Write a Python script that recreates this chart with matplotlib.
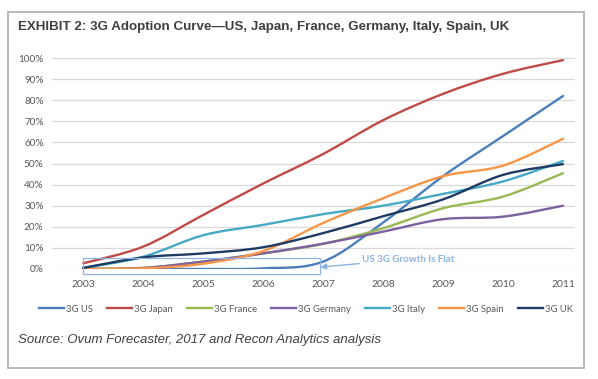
import matplotlib
matplotlib.use("Agg")
import matplotlib.pyplot as plt
import numpy as np
from matplotlib.path import Path
from matplotlib.patches import PathPatch, Rectangle
from matplotlib.lines import Line2D

years = [2003, 2004, 2005, 2006, 2007, 2008, 2009, 2010, 2011]
us      = [0.0, 0.0, 0.0, 0.3, 3.5, 22.0, 44.0, 63.0, 82.0]
japan   = [2.7, 10.6, 25.6, 40.5, 54.5, 70.5, 83.0, 92.5, 99.0]
france  = [0.0, 0.5, 3.5, 7.4, 11.9, 19.3, 28.8, 34.3, 45.4]
germany = [0.0, 0.5, 3.5, 7.4, 12.0, 17.7, 23.6, 24.8, 30.0]
italy   = [0.5, 5.8, 16.0, 20.9, 26.0, 30.0, 35.6, 41.5, 51.2]
spain   = [0.0, 0.3, 2.5, 8.5, 21.8, 33.5, 44.0, 49.0, 61.7]
uk      = [0.5, 5.5, 7.4, 10.3, 17.0, 25.0, 33.0, 44.6, 49.7]

series_names = ["3G US", "3G Japan", "3G France", "3G Germany", "3G Italy", "3G Spain", "3G UK"]
series_vals = [us, japan, france, germany, italy, spain, uk]
colors = ["#4a7ebb", "#be4b48", "#98b954", "#7d60a0", "#46aac5", "#f79646", "#1f3b64"]
y_ticks = [0, 10, 20, 30, 40, 50, 60, 70, 80, 90, 100]

W, H = 598, 379
fig = plt.figure(figsize=(W / 100, H / 100), dpi=100)
fig.patch.set_facecolor("white")

# outer frame
frame = Rectangle((8 / W, 1 - 368 / H), (584 - 8) / W, (368 - 12) / H,
                  transform=fig.transFigure, fill=False, edgecolor="#b3b3b3", lw=1.3)
fig.patches.append(frame)

ax = fig.add_axes([52 / W, 1 - 269 / H, (575 - 52) / W, (269 - 58) / H])
ax.set_xlim(2002.48, 2011.2)
ax.set_ylim(0, 100)
for s in ax.spines.values():
    s.set_visible(False)
ax.set_yticks(y_ticks)
ax.set_yticklabels([f"{t}%" for t in y_ticks], fontsize=7.2, color="#595959", family="Lato")
ax.set_xticks(years)
ax.set_xticklabels([str(y) for y in years], fontsize=7.5, color="#595959", family="Lato")
ax.tick_params(length=0, pad=6)
ax.tick_params(axis="x", pad=8)
ax.grid(axis="y", color="#d9d9d9", lw=0.9)
ax.set_axisbelow(True)


def smooth_path(xs, ys, t=1 / 6):
    xs = np.asarray(xs, float)
    ys = np.asarray(ys, float)
    n = len(xs)
    verts = [(xs[0], ys[0])]
    codes = [Path.MOVETO]
    for i in range(n - 1):
        p0 = (xs[max(i - 1, 0)], ys[max(i - 1, 0)])
        p1 = (xs[i], ys[i])
        p2 = (xs[i + 1], ys[i + 1])
        p3 = (xs[min(i + 2, n - 1)], ys[min(i + 2, n - 1)])
        c1 = (p1[0] + (p2[0] - p0[0]) * t, p1[1] + (p2[1] - p0[1]) * t)
        c2 = (p2[0] - (p3[0] - p1[0]) * t, p2[1] - (p3[1] - p1[1]) * t)
        verts += [c1, c2, p2]
        codes += [Path.CURVE4] * 3
    return Path(verts, codes)


order = [0, 3, 2, 5, 4, 6, 1]
for i in order:
    p = PathPatch(smooth_path(years, series_vals[i]), fill=False, edgecolor=colors[i],
                  lw=1.7, capstyle="round", joinstyle="round", zorder=3 + i * 0.1)
    ax.add_patch(p)

# annotation box and arrow
box = Rectangle((2003.0, -2.4), 2006.95 - 2003.0, 5.2 + 2.4, fill=False,
                edgecolor="#8db3e2", lw=0.9, clip_on=False, zorder=5)
ax.add_patch(box)
ax.annotate("US 3G Growth Is Flat", xy=(2006.95, 0.9), xytext=(2007.65, 4.6),
            fontsize=7, color="#8db3e2", family="Lato", fontweight="bold",
            va="center", ha="left",
            arrowprops=dict(arrowstyle="-|>", color="#8db3e2", lw=1.0,
                            mutation_scale=9, shrinkA=0, shrinkB=0),
            annotation_clip=False, zorder=6)

handles = [Line2D([0], [0], color=c, lw=1.7) for c in colors]
leg = fig.legend(handles, series_names, loc="center", bbox_to_anchor=(306 / W, 1 - 309 / H),
                 ncol=7, frameon=False, handlelength=2.6, handletextpad=0.2,
                 columnspacing=1.55, prop={"family": "Lato", "size": 6.8})
for t in leg.get_texts():
    t.set_color("#595959")

fig.text(18 / W, 1 - 27 / H,
         "EXHIBIT 2: 3G Adoption Curve\u2014US, Japan, France, Germany, Italy, Spain, UK",
         fontsize=9.6, fontweight="bold", color="#404040", family="Liberation Sans",
         va="center", ha="left")
fig.text(18 / W, 1 - 340 / H,
         "Source: Ovum Forecaster, 2017 and Recon Analytics analysis",
         fontsize=9.5, style="italic", color="#404040", family="Liberation Sans",
         va="center", ha="left")

fig.savefig("out.png", dpi=100)
